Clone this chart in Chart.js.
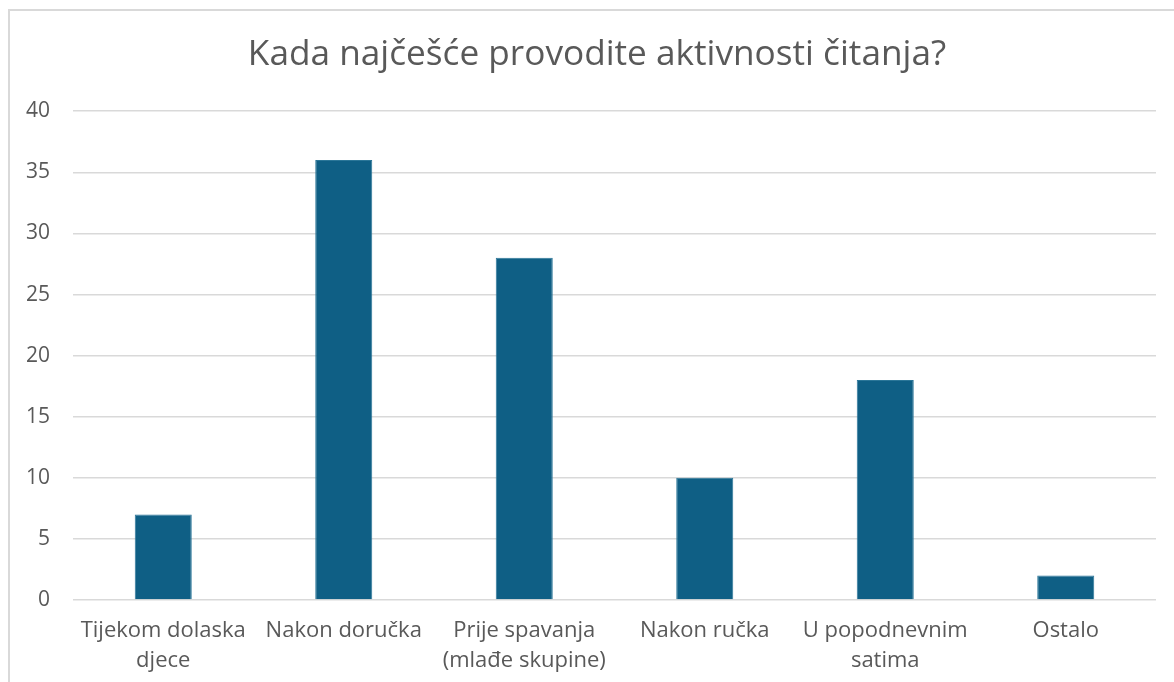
<!DOCTYPE html>
<html>
<head>
<meta charset="utf-8">
<script src="https://cdn.jsdelivr.net/npm/chart.js@4"></script>
<style>
    body { margin: 0; background: #fff; }
    .frame {
        position: absolute; left: 8px; top: 9px;
        width: 1200px; height: 700px;
        border: 2px solid #d9d9d9;
    }
    .wrap { position: absolute; left: 0; top: 0; width: 1174px; height: 682px; }
</style>
</head>
<body>
<div class="frame"></div>
<div class="wrap"><canvas id="chart"></canvas></div>
<script>
// Chart data
const categories = [
    ['Tijekom dolaska', 'djece'],
    'Nakon doručka',
    ['Prije spavanja', '(mlađe skupine)'],
    'Nakon ručka',
    ['U popodnevnim', 'satima'],
    'Ostalo'
];
const counts = [7, 36, 28, 10, 18, 2];
const yTicks = [0, 5, 10, 15, 20, 25, 30, 35, 40];

const textColor = '#595959';
const fontFamily = '"Open Sans", "Noto Sans", sans-serif';

const ctx = document.getElementById('chart');
new Chart(ctx, {
    type: 'bar',
    data: {
        labels: categories,
        datasets: [{
            data: counts,
            backgroundColor: '#0f5f85',
            borderColor: '#2b7698',
            borderWidth: 1,
            categoryPercentage: 1,
            barPercentage: 0.316
        }]
    },
    options: {
        responsive: true,
        maintainAspectRatio: false,
        animation: false,
        layout: { padding: { left: 20, right: 0, top: 0, bottom: 0 } },
        plugins: {
            legend: { display: false },
            tooltip: { enabled: false },
            title: {
                display: true,
                text: 'Kada najčešće provodite aktivnosti čitanja?',
                color: textColor,
                font: { family: fontFamily, size: 35.2, weight: 'normal' },
                padding: { top: 34, bottom: 35 }
            }
        },
        scales: {
            x: {
                grid: { display: false },
                border: { display: false },
                ticks: {
                    color: textColor,
                    font: { family: fontFamily, size: 22, lineHeight: 1.37 },
                    padding: 8,
                    maxRotation: 0,
                    autoSkip: false
                },
                afterFit: function(scale) { scale.height = 82; }
            },
            y: {
                min: 0,
                max: 40,
                afterBuildTicks: function(scale) {
                    scale.ticks = yTicks.map(function(v) { return { value: v }; });
                },
                grid: { color: '#d9d9d9', lineWidth: 1.5, drawTicks: false },
                border: { display: false },
                ticks: {
                    color: textColor,
                    font: { family: fontFamily, size: 21 },
                    padding: 23
                },
                afterFit: function(scale) { scale.width = 53; }
            },
            // empty spacer on the right so the plot ends before the edge
            spacer: {
                type: 'linear',
                position: 'right',
                grid: { display: false },
                border: { display: false },
                ticks: { display: false },
                afterFit: function(scale) { scale.width = 18; }
            }
        }
    }
});
</script>
</body>
</html>
